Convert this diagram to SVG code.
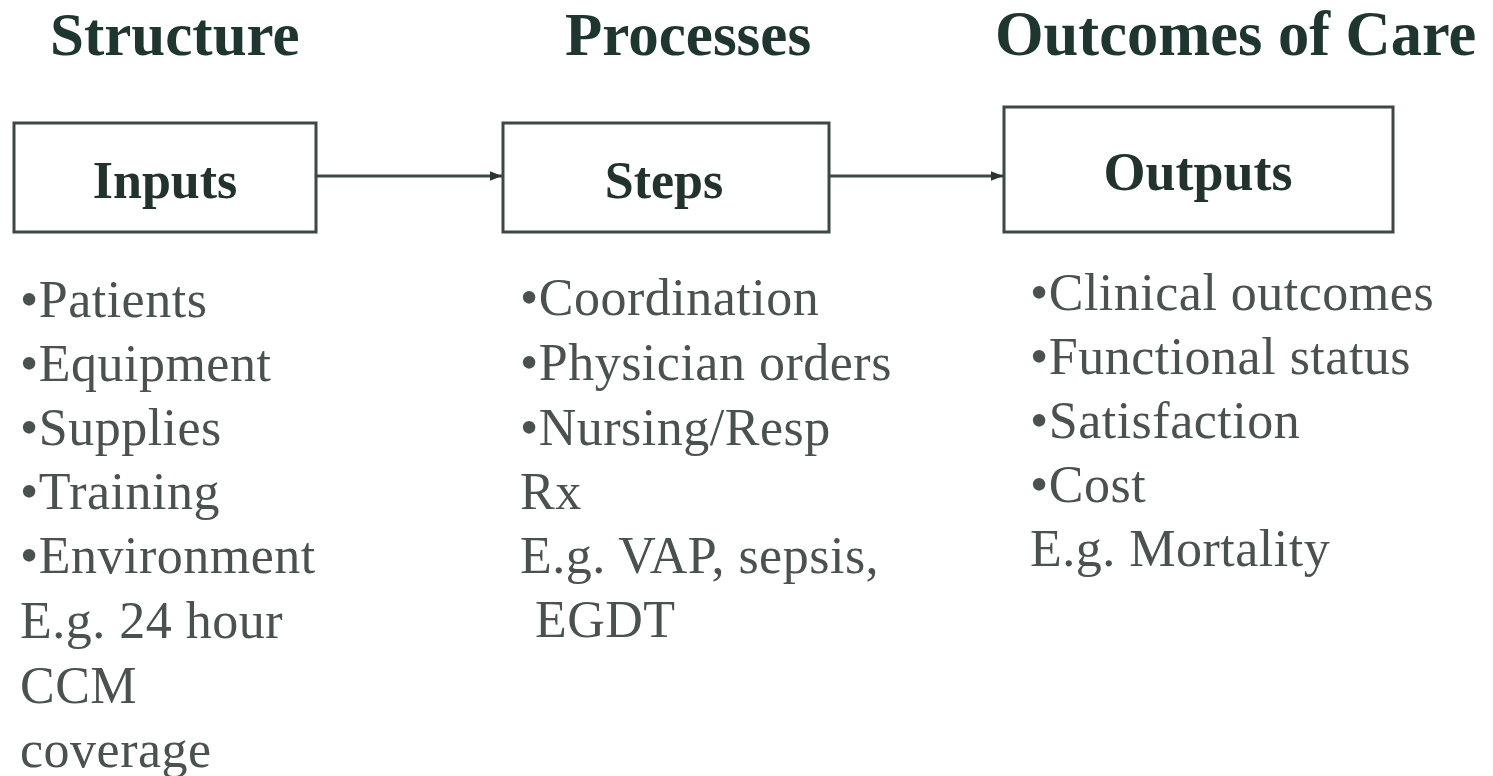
<svg xmlns="http://www.w3.org/2000/svg" width="1493" height="776" viewBox="0 0 1493 776">
<defs>
<style>
.title{font-family:"Liberation Serif","Times New Roman",serif;font-weight:bold;font-size:61px;fill:#1f3530;}
.lbl{font-family:"Liberation Serif","Times New Roman",serif;font-weight:bold;font-size:52px;fill:#22332e;text-anchor:middle;}
.body{font-family:"Liberation Serif","Times New Roman",serif;font-size:52px;fill:#4a524f;letter-spacing:0.5px;}
.box{fill:#ffffff;stroke:#3c4844;stroke-width:3;}
.conn{stroke:#3c4844;stroke-width:3;fill:none;}
</style>
<marker id="ah" viewBox="0 0 10 10" refX="10" refY="5" markerWidth="4" markerHeight="4" orient="auto" markerUnits="strokeWidth">
<path d="M0,1 L10,5 L0,9 z" fill="#2a3530"/>
</marker>
</defs>
<rect width="1493" height="776" fill="#ffffff"/>
<g id="titles">
<text class="title" x="50" y="55">Structure</text>
<text class="title" x="565" y="55">Processes</text>
<text class="title" x="995" y="55" style="font-size:62.5px">Outcomes of Care</text>
</g>
<g id="connectors">
<line class="conn" x1="316" y1="176" x2="502" y2="176" marker-end="url(#ah)"/>
<line class="conn" x1="829" y1="176" x2="1003" y2="176" marker-end="url(#ah)"/>
</g>
<g id="inputs">
<rect class="box" x="14" y="123" width="302" height="109"/>
<text class="lbl" x="165" y="198">Inputs</text>
</g>
<g id="steps">
<rect class="box" x="503" y="123" width="326" height="109"/>
<text class="lbl" x="664" y="198">Steps</text>
</g>
<g id="outputs">
<rect class="box" x="1004" y="107" width="389" height="125"/>
<text class="lbl" x="1198" y="190" style="font-size:54px">Outputs</text>
</g>
<g id="structure-list">
<text class="body" x="20" y="317">•Patients</text>
<text class="body" x="20" y="381">•Equipment</text>
<text class="body" x="20" y="445">•Supplies</text>
<text class="body" x="20" y="509">•Training</text>
<text class="body" x="20" y="573">•Environment</text>
<text class="body" x="20" y="638">E.g. 24 hour</text>
<text class="body" x="20" y="703">CCM</text>
<text class="body" x="20" y="767">coverage</text>
</g>
<g id="process-list">
<text class="body" x="520" y="315">•Coordination</text>
<text class="body" x="520" y="380">•Physician orders</text>
<text class="body" x="520" y="445">•Nursing/Resp</text>
<text class="body" x="520" y="509">Rx</text>
<text class="body" x="520" y="573">E.g. VAP, sepsis,</text>
<text class="body" x="535" y="637">EGDT</text>
</g>
<g id="outcome-list">
<text class="body" x="1030" y="310">•Clinical outcomes</text>
<text class="body" x="1030" y="374">•Functional status</text>
<text class="body" x="1030" y="438">•Satisfaction</text>
<text class="body" x="1030" y="502">•Cost</text>
<text class="body" x="1030" y="566">E.g. Mortality</text>
</g>
</svg>
